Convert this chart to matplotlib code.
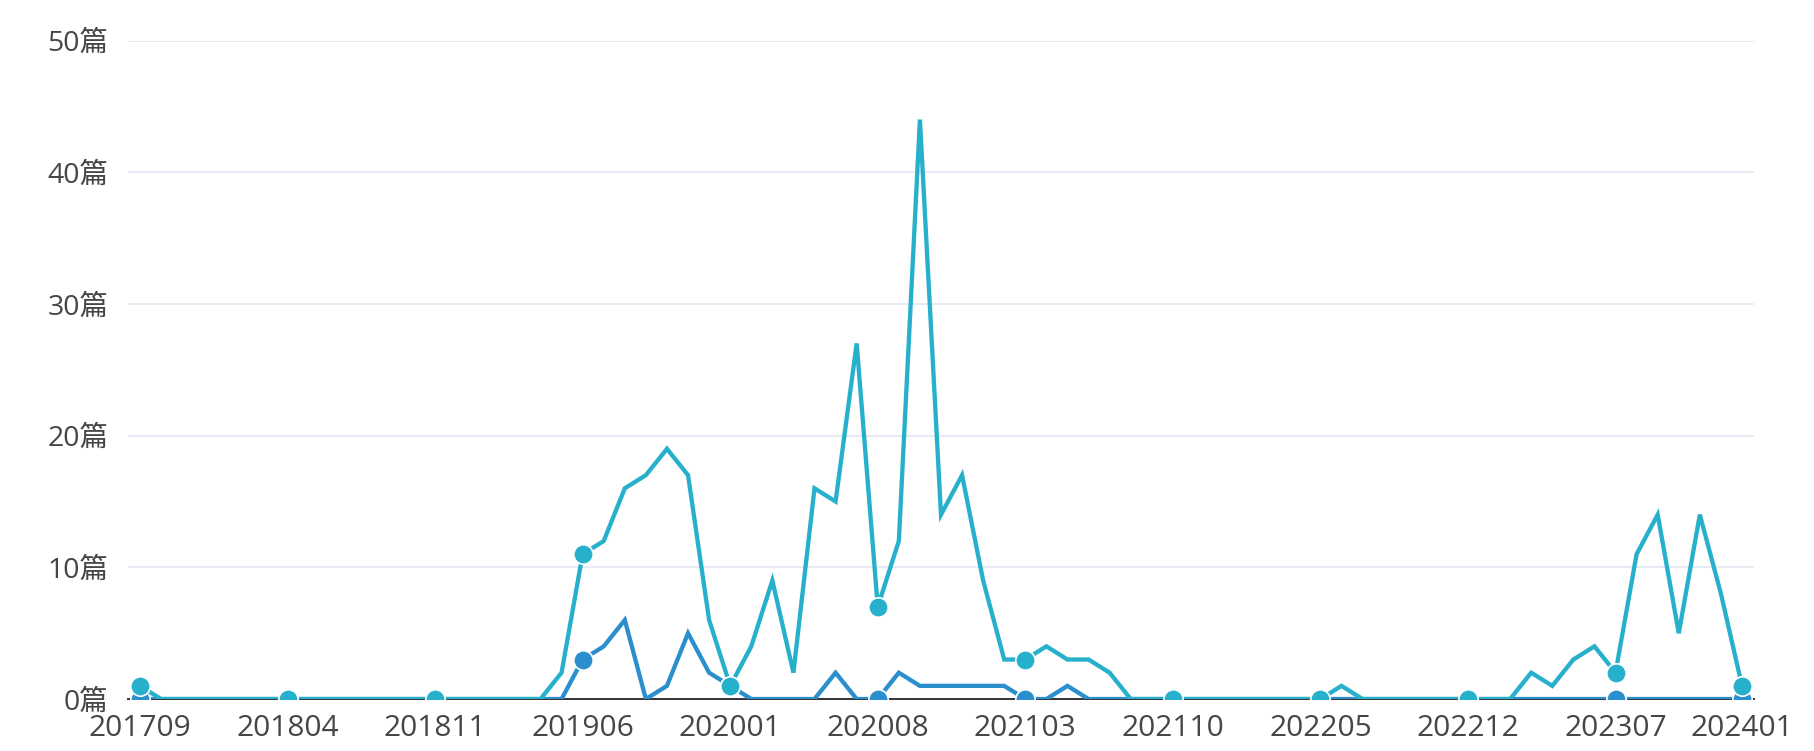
import matplotlib
matplotlib.use("Agg")
import matplotlib.pyplot as plt

plt.rcParams['font.family'] = ['Open Sans', 'Noto Sans CJK SC', 'DejaVu Sans']

# months 201709 .. 202401
def month_labels(start_y, start_m, n):
    out = []
    y, m = start_y, start_m
    for _ in range(n):
        out.append(f"{y}{m:02d}")
        m += 1
        if m > 12:
            m = 1
            y += 1
    return out

months = month_labels(2017, 9, 77)

series_light = [1, 0, 0, 0, 0, 0, 0, 0, 0, 0,
                0, 0, 0, 0, 0, 0, 0, 0, 0, 0,
                2, 11, 12, 16, 17, 19, 17, 6, 1, 4,
                9, 2, 16, 15, 27, 7, 12, 44, 14, 17,
                9, 3, 3, 4, 3, 3, 2, 0, 0, 0,
                0, 0, 0, 0, 0, 0, 0, 1, 0, 0,
                0, 0, 0, 0, 0, 0, 2, 1, 3, 4,
                2, 11, 14, 5, 14, 8, 1]

series_dark = [0, 0, 0, 0, 0, 0, 0, 0, 0, 0,
               0, 0, 0, 0, 0, 0, 0, 0, 0, 0,
               0, 3, 4, 6, 0, 1, 5, 2, 1, 0,
               0, 0, 0, 2, 0, 0, 2, 1, 1, 1,
               1, 1, 0, 0, 1, 0, 0, 0, 0, 0,
               0, 0, 0, 0, 0, 0, 0, 0, 0, 0,
               0, 0, 0, 0, 0, 0, 0, 0, 0, 0,
               0, 0, 0, 0, 0, 0, 0]

y_ticks = [0, 10, 20, 30, 40, 50]
y_tick_labels = [f"{v}篇" for v in y_ticks]

n = len(months)
x = list(range(n))
tick_idx = list(range(0, n - 1, 7)) + [n - 1]

fig = plt.figure(figsize=(18.15, 7.51), dpi=100)
ax = fig.add_axes([0.0705, 0.0692, 0.8959, 0.8768])

color_light = '#27B0CC'
color_dark = '#2A8FCC'

ax.plot(x, series_dark, color=color_dark, lw=3.1, zorder=3,
        marker='o', markevery=tick_idx, markersize=14,
        markerfacecolor=color_dark, markeredgecolor='white', markeredgewidth=1.2,
        solid_joinstyle='miter')
ax.plot(x, series_light, color=color_light, lw=3.1, zorder=4,
        marker='o', markevery=tick_idx, markersize=14,
        markerfacecolor=color_light, markeredgecolor='white', markeredgewidth=1.2,
        solid_joinstyle='miter')

ax.set_xlim(-0.57, n - 1 + 0.57)
ax.set_ylim(0, 50)
ax.set_yticks(y_ticks)
ax.set_yticklabels(y_tick_labels)
ax.set_xticks(tick_idx)
ax.set_xticklabels([months[i] for i in tick_idx])

for s in ['top', 'right', 'left']:
    ax.spines[s].set_visible(False)
ax.spines['bottom'].set_color('#333333')
ax.spines['bottom'].set_linewidth(1.4)
ax.spines['bottom'].set_zorder(2)

ax.grid(axis='y', color='#E0E6F1', lw=1.2)
ax.set_axisbelow(True)
ax.tick_params(axis='both', length=0, labelcolor='#464646')
ax.tick_params(axis='y', pad=14, labelsize=20.5)
ax.tick_params(axis='x', pad=11, labelsize=21.5)

fig.savefig('out.png', dpi=100, facecolor='white')
